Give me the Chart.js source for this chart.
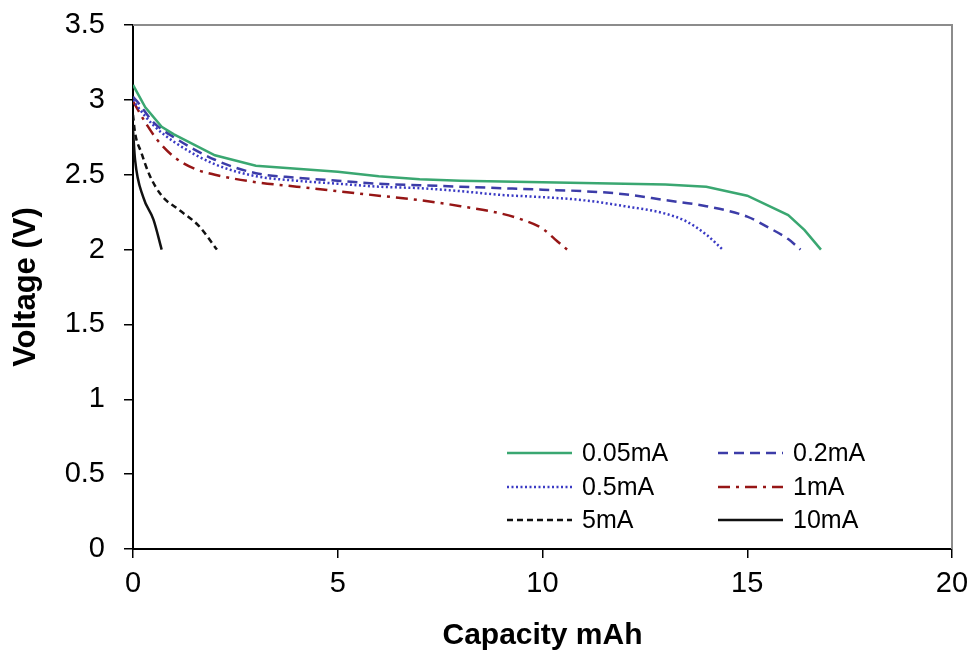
<!DOCTYPE html>
<html>
<head>
<meta charset="utf-8">
<script src="https://cdn.jsdelivr.net/npm/chart.js@4"></script>
<style>
  html, body { margin: 0; padding: 0; background: #fff; }
  #wrap { width: 972px; height: 656px; }
</style>
</head>
<body>
<div id="wrap"><canvas id="chart" width="972" height="656"></canvas></div>
<script>
// series labels
let seriesNames = ['0.05mA', '0.2mA', '0.5mA', '1mA', '5mA', '10mA'];

// capacity (mAh) / voltage (V)
let cap005 = [0, 0.1, 0.3, 0.7, 1, 2, 3, 4, 5, 6, 7, 8, 9, 10, 11, 12, 13, 14, 15, 16, 16.4, 16.8];
let volt005 = [3.1, 3.05, 2.95, 2.82, 2.77, 2.63, 2.56, 2.54, 2.52, 2.49, 2.47, 2.46, 2.455, 2.45, 2.445, 2.44, 2.435, 2.42, 2.36, 2.23, 2.13, 2.0];

let cap02 = [0, 0.1, 0.5, 1, 2, 3, 4, 5, 6, 7, 8, 9, 10, 11, 12, 13, 14, 15, 15.5, 16, 16.3];
let volt02 = [3.02, 2.99, 2.85, 2.75, 2.6, 2.51, 2.48, 2.46, 2.44, 2.43, 2.42, 2.41, 2.4, 2.39, 2.37, 2.33, 2.29, 2.22, 2.15, 2.07, 2.0];

let cap05 = [0, 0.1, 0.5, 1, 2, 3, 4, 5, 6, 7, 8, 9, 10, 11, 12, 13, 13.5, 14, 14.4];
let volt05 = [3.0, 2.96, 2.83, 2.72, 2.57, 2.49, 2.46, 2.44, 2.42, 2.41, 2.39, 2.365, 2.35, 2.33, 2.29, 2.24, 2.19, 2.1, 2.0];

let cap1 = [0, 0.3, 0.6, 1, 1.5, 2, 3, 4, 5, 6, 7, 8, 9, 9.5, 10, 10.3, 10.6];
let volt1 = [2.99, 2.85, 2.73, 2.62, 2.54, 2.5, 2.45, 2.42, 2.39, 2.36, 2.33, 2.29, 2.24, 2.2, 2.14, 2.07, 2.0];

let cap5 = [0, 0.05, 0.2, 0.4, 0.7, 1.1, 1.6, 2.05];
let volt5 = [2.9, 2.78, 2.65, 2.5, 2.36, 2.27, 2.16, 2.0];

let cap10 = [0, 0.05, 0.25, 0.5, 0.7];
let volt10 = [2.8, 2.6, 2.35, 2.2, 2.0];

let xTicks = [0, 5, 10, 15, 20];
let yTicks = [0, 0.5, 1, 1.5, 2, 2.5, 3, 3.5];

function toPoints(xs, ys) {
    let pts = [];
    for (let i = 0; i < xs.length; i++) {
        pts.push({x: xs[i], y: ys[i]});
    }
    return pts;
}

let styles = [
    {color: '#3aa771', dash: [], smooth: false},
    {color: '#3c3ca8', dash: [10, 6], smooth: true},
    {color: '#3a3ac4', dash: [2, 2.5], smooth: true},
    {color: '#961616', dash: [12, 6, 3, 6], smooth: true},
    {color: '#111111', dash: [6, 4], smooth: true},
    {color: '#111111', dash: [], smooth: true}
];

let allX = [cap005, cap02, cap05, cap1, cap5, cap10];
let allY = [volt005, volt02, volt05, volt1, volt5, volt10];

let datasets = [];
for (let i = 0; i < seriesNames.length; i++) {
    datasets.push({
        label: seriesNames[i],
        data: toPoints(allX[i], allY[i]),
        borderColor: styles[i].color,
        backgroundColor: styles[i].color,
        borderDash: styles[i].dash,
        borderWidth: 2.5,
        pointRadius: 0,
        showLine: true,
        fill: false,
        cubicInterpolationMode: styles[i].smooth ? 'monotone' : 'default',
        tension: 0
    });
}

const fontFamily = '"Liberation Sans", Arial, sans-serif';

// grey frame on top/right + legend inside plot
const framePlugin = {
    id: 'frame',
    afterDraw(chart) {
        let ctx = chart.ctx;
        let a = chart.chartArea;
        ctx.save();
        ctx.strokeStyle = '#8c8c8c';
        ctx.lineWidth = 2;
        ctx.beginPath();
        ctx.moveTo(a.left, a.top);
        ctx.lineTo(a.right, a.top);
        ctx.lineTo(a.right, a.bottom);
        ctx.stroke();

        // legend, two columns
        let cols = [507, 718];
        let rows = [453, 487, 520];
        ctx.font = '25px ' + fontFamily;
        ctx.textBaseline = 'middle';
        ctx.fillStyle = '#000';
        chart.data.datasets.forEach((ds, i) => {
            let cx = cols[i % 2];
            let cy = rows[Math.floor(i / 2)];
            ctx.strokeStyle = ds.borderColor;
            ctx.lineWidth = 2.5;
            ctx.setLineDash(ds.borderDash);
            ctx.beginPath();
            ctx.moveTo(cx, cy);
            ctx.lineTo(cx + 65, cy);
            ctx.stroke();
            ctx.setLineDash([]);
            ctx.fillText(ds.label, cx + 75, cy + 1);
        });
        ctx.restore();
    }
};

new Chart(document.getElementById('chart'), {
    type: 'scatter',
    data: {datasets: datasets},
    options: {
        responsive: false,
        animation: false,
        layout: {padding: {top: 25, right: 20, left: 0, bottom: 0}},
        plugins: {
            legend: {display: false},
            tooltip: {enabled: false}
        },
        scales: {
            x: {
                type: 'linear',
                min: 0,
                max: 20,
                afterBuildTicks: (s) => { s.ticks = xTicks.map(v => ({value: v})); },
                afterFit: (s) => { s.height = 107; s.paddingLeft = 0; s.paddingRight = 0; },
                grid: {drawOnChartArea: false, color: '#000', tickLength: 9, lineWidth: 1.5},
                border: {color: '#000', width: 2},
                ticks: {
                    color: '#000',
                    padding: 9,
                    font: {family: fontFamily, size: 29}
                },
                title: {
                    display: true,
                    text: 'Capacity mAh',
                    color: '#000',
                    padding: {top: 4, bottom: 2},
                    font: {family: fontFamily, size: 30, weight: 'bold'}
                }
            },
            y: {
                type: 'linear',
                min: 0,
                max: 3.5,
                afterBuildTicks: (s) => { s.ticks = yTicks.map(v => ({value: v})); },
                afterFit: (s) => { s.width = 133; s.paddingTop = 0; s.paddingBottom = 0; },
                grid: {drawOnChartArea: false, color: '#000', tickLength: 9, lineWidth: 1.5},
                border: {color: '#000', width: 2},
                ticks: {
                    color: '#000',
                    padding: 19,
                    font: {family: fontFamily, size: 29},
                    callback: (v) => String(v)
                },
                title: {
                    display: true,
                    text: 'Voltage (V)',
                    color: '#000',
                    padding: {top: 8, bottom: 4},
                    font: {family: fontFamily, size: 31, weight: 'bold'}
                }
            }
        }
    },
    plugins: [framePlugin]
});
</script>
</body>
</html>
